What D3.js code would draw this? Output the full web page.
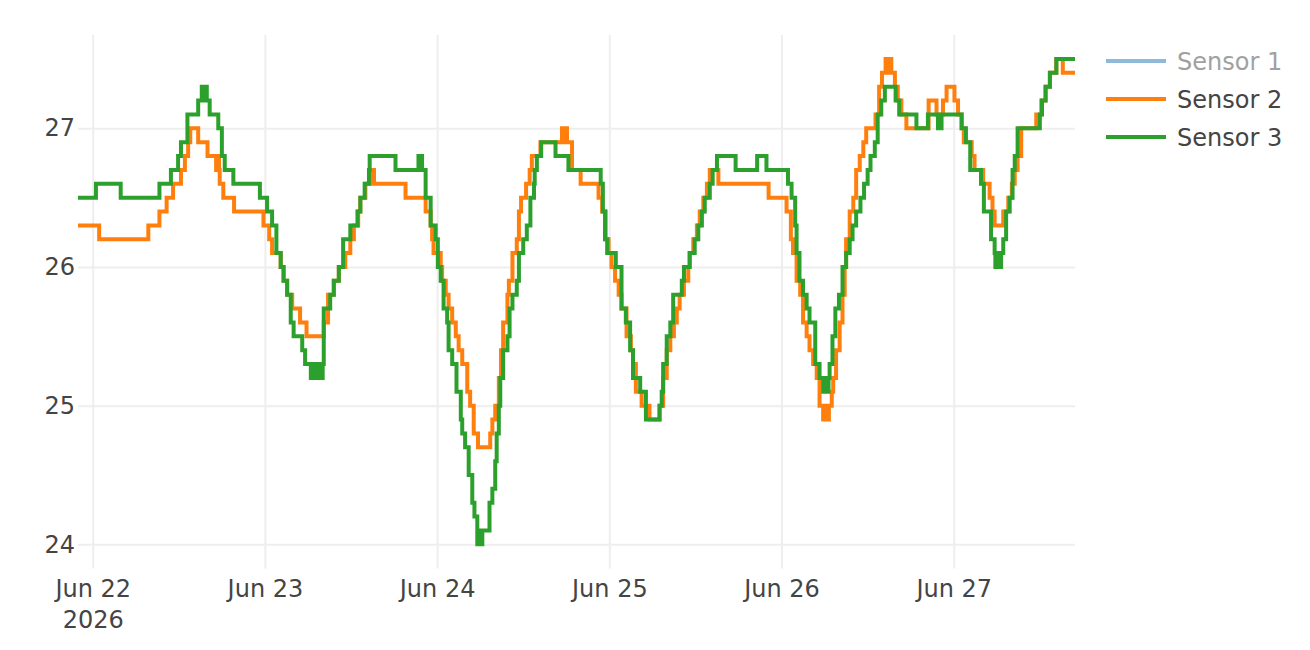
<!DOCTYPE html>
<html>
<head>
<meta charset="utf-8">
<script src="https://cdn.jsdelivr.net/npm/d3@7"></script>
<style>
  body { margin: 0; background: #fff; }
  #chart { width: 1310px; height: 650px; }
  #chart text { font-family: "DejaVu Sans", Verdana, sans-serif; fill: #444; }
</style>
</head>
<body>
<div id="chart"></div>
<script>
const startDay = Date.UTC(2026, 5, 22);

const seriesNames = ['Sensor 1', 'Sensor 2', 'Sensor 3'];
const seriesColors = ['#1f77b4', '#ff7f0e', '#2ca02c'];
const hiddenSeries = ['Sensor 1'];

// readings as [hours after Jun 22 00:00 UTC, temperature]; Sensor 1 is legend-only
const sensor1 = [];

const sensor2 = [
  [-2.05, 26.3], [0.9, 26.2], [7.75, 26.3], [9.3, 26.4], [10.3, 26.5], [11.2, 26.6],
  [12.3, 26.7], [12.85, 26.8], [13.3, 26.9], [13.6, 27.0], [14.7, 26.9], [16.0, 26.8],
  [17.2, 26.7], [17.3, 26.8], [17.4, 26.7], [17.5, 26.8], [17.6, 26.7],
  [17.7, 26.6], [18.2, 26.5], [19.7, 26.4], [23.8, 26.3], [24.6, 26.2], [25.0, 26.1],
  [26.2, 26.0], [26.6, 25.9], [27.1, 25.8], [27.8, 25.7], [28.9, 25.6], [29.8, 25.5],
  [32.2, 25.6], [32.8, 25.8], [33.6, 25.9], [34.3, 26.0], [35.2, 26.1], [35.9, 26.2],
  [36.4, 26.3], [37.0, 26.4], [37.3, 26.5], [38.0, 26.6], [38.9, 26.7], [39.2, 26.6],
  [43.6, 26.5], [46.4, 26.4], [47.1, 26.3], [47.3, 26.2], [47.5, 26.1], [48.5, 26.0],
  [48.7, 25.9], [49.2, 25.8], [49.6, 25.7], [50.1, 25.6], [50.6, 25.5], [51.0, 25.4],
  [51.5, 25.3], [52.2, 25.1], [52.6, 25.0], [53.1, 24.8], [53.7, 24.7], [55.4, 24.8],
  [55.7, 24.9], [56.1, 25.0], [56.6, 25.2], [56.9, 25.4], [57.2, 25.6], [57.8, 25.8],
  [58.0, 25.9], [58.5, 26.1], [59.1, 26.2], [59.4, 26.4], [59.7, 26.5], [60.4, 26.6],
  [60.9, 26.7], [61.2, 26.8], [62.4, 26.9],
  [65.4, 27.0], [65.55, 26.9], [65.7, 27.0], [65.85, 26.9], [66.0, 27.0],
  [66.1, 26.9], [66.8, 26.7], [68.0, 26.6], [70.5, 26.5], [71.0, 26.4], [71.5, 26.2],
  [71.9, 26.1], [72.3, 26.0], [72.8, 25.9], [73.3, 25.8], [73.7, 25.7], [74.4, 25.5],
  [75.0, 25.4], [75.3, 25.3], [75.7, 25.1], [76.5, 25.0], [77.6, 24.9], [79.0, 25.0],
  [79.5, 25.2], [80.0, 25.4], [80.5, 25.5], [81.0, 25.6], [81.4, 25.7], [81.8, 25.8],
  [82.4, 25.9], [83.0, 26.0], [83.2, 26.1], [83.7, 26.2], [84.2, 26.3], [84.6, 26.4],
  [85.1, 26.5], [85.6, 26.6], [86.0, 26.7], [87.2, 26.6], [94.2, 26.5], [96.7, 26.4],
  [97.3, 26.2], [97.6, 26.1], [98.1, 25.9], [98.6, 25.8], [99.0, 25.6], [99.5, 25.5],
  [99.9, 25.4], [100.4, 25.3], [100.9, 25.2], [101.3, 25.0],
  [101.8, 24.9], [101.95, 25.0], [102.1, 24.9], [102.25, 25.0], [102.4, 24.9],
  [102.6, 25.0], [103.0, 25.1], [103.2, 25.2], [103.6, 25.4], [104.1, 25.6], [104.5, 25.8],
  [104.8, 26.0], [105.0, 26.2], [105.5, 26.4], [106.0, 26.5], [106.4, 26.7], [106.9, 26.8],
  [107.4, 26.9], [107.8, 27.0], [109.1, 27.1], [109.6, 27.3], [110.0, 27.4],
  [110.5, 27.5], [110.65, 27.4], [110.8, 27.5], [110.95, 27.4], [111.1, 27.5],
  [111.3, 27.4], [111.8, 27.3], [112.2, 27.2], [112.7, 27.1], [113.4, 27.0], [116.5, 27.2],
  [117.6, 27.1], [118.5, 27.2], [119.0, 27.3], [120.1, 27.2], [120.6, 27.1], [121.1, 27.0],
  [121.4, 26.9], [122.5, 26.8], [122.9, 26.7], [124.1, 26.6], [125.0, 26.5], [125.4, 26.4],
  [125.7, 26.3], [126.9, 26.4], [127.6, 26.5], [128.1, 26.6], [128.5, 26.7], [128.9, 26.8],
  [129.4, 27.0], [131.5, 27.1], [132.2, 27.2], [132.8, 27.3], [133.4, 27.4], [134.3, 27.5],
  [135.2, 27.4], [136.9, 27.4]
];

const sensor3 = [
  [-2.05, 26.5], [0.45, 26.6], [3.9, 26.5], [9.3, 26.6], [10.9, 26.7], [11.9, 26.8],
  [12.3, 26.9], [13.2, 27.1], [14.7, 27.2],
  [15.2, 27.3], [15.3, 27.2], [15.4, 27.3], [15.5, 27.2], [15.6, 27.3], [15.7, 27.2], [15.8, 27.3],
  [15.9, 27.2], [16.3, 27.1], [17.5, 27.0], [18.0, 26.8], [18.4, 26.7], [19.6, 26.6],
  [23.3, 26.5], [24.3, 26.4], [25.0, 26.3], [25.6, 26.1], [26.2, 26.0], [26.6, 25.9],
  [27.1, 25.8], [27.6, 25.6], [28.0, 25.5], [29.2, 25.4], [29.6, 25.3],
  [30.4, 25.2], [30.55, 25.3], [30.7, 25.2], [30.85, 25.3], [31.0, 25.2], [31.15, 25.3],
  [31.3, 25.2], [31.45, 25.3], [31.6, 25.2], [31.75, 25.3], [31.9, 25.2], [32.05, 25.3],
  [32.2, 25.7], [33.1, 25.8], [33.6, 25.9], [34.3, 26.0], [34.9, 26.2], [35.9, 26.3],
  [36.9, 26.4], [37.3, 26.5], [37.9, 26.6], [38.5, 26.7], [38.6, 26.8], [42.2, 26.7],
  [45.4, 26.8], [45.9, 26.7], [46.4, 26.5], [47.1, 26.3], [47.8, 26.2], [48.1, 26.0],
  [48.5, 25.9], [48.9, 25.7], [49.4, 25.6], [49.6, 25.4], [50.1, 25.3], [50.7, 25.1],
  [51.3, 24.9], [51.5, 24.8], [51.9, 24.7], [52.4, 24.5], [52.9, 24.3], [53.2, 24.2],
  [53.6, 24.0], [53.75, 24.1], [53.9, 24.0], [54.05, 24.1], [54.15, 24.0],
  [54.3, 24.1], [55.3, 24.3], [55.7, 24.4], [56.1, 24.6], [56.3, 24.8], [56.6, 25.0],
  [56.8, 25.2], [57.2, 25.4], [57.8, 25.5], [58.1, 25.7], [58.5, 25.8], [59.1, 25.9],
  [59.4, 26.1], [60.0, 26.2], [60.5, 26.3], [61.0, 26.5], [61.5, 26.6], [61.6, 26.7],
  [61.9, 26.8], [62.5, 26.9], [64.5, 26.8], [66.3, 26.7], [70.8, 26.6], [71.1, 26.4],
  [71.4, 26.2], [71.7, 26.1], [72.9, 26.0], [73.7, 25.7], [74.3, 25.6], [74.9, 25.4],
  [75.3, 25.2], [76.3, 25.1], [77.1, 24.9], [79.0, 25.0], [79.3, 25.1], [79.5, 25.3],
  [80.0, 25.5], [80.5, 25.6], [80.9, 25.8], [82.1, 25.9], [82.4, 26.0], [83.2, 26.1],
  [83.9, 26.2], [84.4, 26.3], [84.9, 26.4], [85.3, 26.5], [86.0, 26.6], [86.4, 26.7],
  [87.0, 26.8], [89.6, 26.7], [92.6, 26.8], [93.9, 26.7], [96.9, 26.6], [97.4, 26.5],
  [97.9, 26.3], [98.1, 26.1], [98.5, 25.9], [99.0, 25.8], [99.5, 25.7], [99.9, 25.6],
  [100.7, 25.3], [101.3, 25.2],
  [101.8, 25.1], [101.95, 25.2], [102.1, 25.1], [102.25, 25.2], [102.4, 25.1], [102.55, 25.2],
  [102.7, 25.3], [103.1, 25.5], [103.5, 25.7], [104.0, 25.8], [104.5, 26.0], [105.0, 26.1],
  [105.5, 26.2], [105.9, 26.3], [106.4, 26.4], [107.0, 26.5], [107.5, 26.6], [108.0, 26.7],
  [108.4, 26.8], [109.0, 26.9], [109.4, 27.1], [109.9, 27.2], [110.4, 27.3], [111.9, 27.2],
  [112.4, 27.1], [114.8, 27.0], [116.4, 27.1],
  [117.8, 27.0], [117.95, 27.1], [118.1, 27.0],
  [118.3, 27.1], [121.1, 27.0], [121.7, 26.9], [122.3, 26.7], [123.8, 26.6], [124.2, 26.4],
  [125.2, 26.2],
  [125.7, 26.1], [125.8, 26.0], [125.95, 26.1], [126.1, 26.0], [126.25, 26.1], [126.4, 26.0],
  [126.6, 26.1], [126.9, 26.2], [127.3, 26.4], [127.8, 26.5], [128.2, 26.7], [128.5, 26.8],
  [128.9, 27.0], [132.0, 27.1], [132.3, 27.2], [132.8, 27.3], [133.4, 27.4], [134.3, 27.5],
  [136.9, 27.5]
];

const chartEl = document.getElementById('chart');
const toDate = h => new Date(startDay + h * 3600 * 1000);

function render() {
  const W = 1310, H = 650;
  const plot = { left: 78, right: 1075, top: 34.7, bottom: 568.6 };

  const series = [sensor1, sensor2, sensor3].map((rows, i) => ({
    name: seriesNames[i],
    color: seriesColors[i],
    hidden: hiddenSeries.includes(seriesNames[i]),
    points: rows.map(([h, v]) => ({ date: toDate(h), value: v }))
  }));

  const visible = series.filter(s => !s.hidden);
  const allPoints = visible.flatMap(s => s.points);

  const svg = d3.select(chartEl).append('svg')
    .attr('width', W)
    .attr('height', H);

  const x = d3.scaleUtc()
    .domain(d3.extent(allPoints, d => d.date))
    .range([plot.left, plot.right]);

  // plotly-style autorange: 5% padding on lines
  const [lo, hi] = d3.extent(allPoints, d => d.value);
  const pad = (hi - lo) * 0.05;
  const y = d3.scaleLinear()
    .domain([lo - pad, hi + pad])
    .range([plot.bottom, plot.top]);

  const fmtDay = d3.utcFormat('%b %-d');

  const xAxis = svg.append('g')
    .attr('transform', `translate(0,${plot.bottom})`)
    .call(d3.axisBottom(x)
      .ticks(d3.utcDay.every(1))
      .tickSize(-(plot.bottom - plot.top))
      .tickPadding(11.5)
      .tickFormat(''));

  const yAxis = svg.append('g')
    .attr('transform', `translate(${plot.left},0)`)
    .call(d3.axisLeft(y)
      .ticks(4)
      .tickSize(-(plot.right - plot.left))
      .tickPadding(3));

  [xAxis, yAxis].forEach(a => {
    a.select('.domain').remove();
    a.selectAll('.tick line').attr('stroke', '#eee').attr('stroke-width', 2);
    a.selectAll('.tick text').attr('font-size', 24).attr('fill', '#444');
  });

  // x labels with the year under the first day
  xAxis.selectAll('.tick text').each(function (d, i) {
    const t = d3.select(this);
    t.text(null);
    t.append('tspan').attr('x', 0).text(fmtDay(d));
    if (i === 0) {
      t.append('tspan').attr('x', 0).attr('dy', '1.3em').text(d3.utcFormat('%Y')(d));
    }
  });

  const line = d3.line()
    .curve(d3.curveStepAfter)
    .x(d => x(d.date))
    .y(d => y(d.value));

  svg.append('g')
    .selectAll('path')
    .data(visible)
    .join('path')
    .attr('fill', 'none')
    .attr('stroke', d => d.color)
    .attr('stroke-width', 4)
    .attr('d', d => line(d.points));

  // legend
  const legend = svg.append('g')
    .attr('transform', 'translate(1106,61)')
    .selectAll('g')
    .data(series)
    .join('g')
    .attr('transform', (d, i) => `translate(0,${i * 38})`)
    .attr('opacity', d => (d.hidden ? 0.5 : 1));

  legend.append('line')
    .attr('x1', 0)
    .attr('x2', 60)
    .attr('stroke', d => d.color)
    .attr('stroke-width', 4);

  legend.append('text')
    .attr('x', 71)
    .attr('dy', '0.36em')
    .attr('font-size', 24)
    .text(d => d.name);
}

render();
</script>
</body>
</html>
